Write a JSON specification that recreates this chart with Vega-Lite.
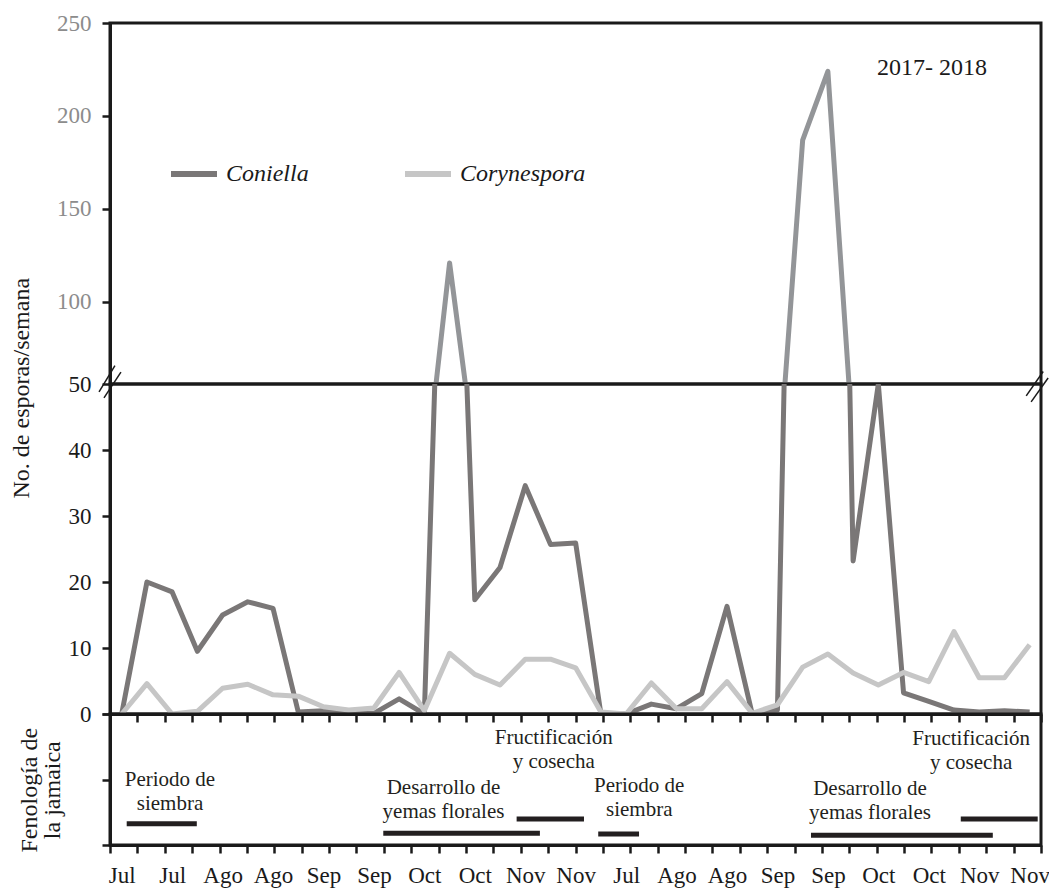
{
  "$schema": "https://vega.github.io/schema/vega-lite/v6.json",
  "background": "white",
  "padding": {"left": 7, "top": 10, "right": 0, "bottom": 0},
  "spacing": 0,
  "bounds": "flush",
  "config": {
    "font": "Liberation Serif, Times New Roman, DejaVu Serif, serif",
    "view": {"stroke": "#1a1a1a", "strokeWidth": 3},
    "text": {"font": "Liberation Serif, Times New Roman, DejaVu Serif, serif"},
    "axis": {
      "domainColor": "#1a1a1a", "domainWidth": 3,
      "tickColor": "#1a1a1a", "tickWidth": 2.5, "tickSize": 8,
      "labelFont": "Liberation Serif, Times New Roman, DejaVu Serif, serif", "labelFontSize": 23, "labelColor": "#1a1a1a",
      "grid": false,
      "titleFont": "Liberation Serif, Times New Roman, DejaVu Serif, serif", "titleFontSize": 24, "titleFontWeight": "normal", "titleColor": "#1a1a1a"
    },
    "legend": {"labelFont": "Liberation Serif, Times New Roman, DejaVu Serif, serif"}
  },
  "datasets": {
    "esporas": [
      {"semana": 0, "serie": "Coniella", "esporas": 0},
      {"semana": 1, "serie": "Coniella", "esporas": 20},
      {"semana": 2, "serie": "Coniella", "esporas": 18.5},
      {"semana": 3, "serie": "Coniella", "esporas": 9.5},
      {"semana": 4, "serie": "Coniella", "esporas": 15},
      {"semana": 5, "serie": "Coniella", "esporas": 17},
      {"semana": 6, "serie": "Coniella", "esporas": 16},
      {"semana": 7, "serie": "Coniella", "esporas": 0.3},
      {"semana": 8, "serie": "Coniella", "esporas": 0.5},
      {"semana": 9, "serie": "Coniella", "esporas": 0.1},
      {"semana": 10, "serie": "Coniella", "esporas": 0.1},
      {"semana": 11, "serie": "Coniella", "esporas": 2.3},
      {"semana": 12, "serie": "Coniella", "esporas": 0},
      {"semana": 13, "serie": "Coniella", "esporas": 121},
      {"semana": 14, "serie": "Coniella", "esporas": 17.3},
      {"semana": 15, "serie": "Coniella", "esporas": 22.2},
      {"semana": 16, "serie": "Coniella", "esporas": 34.6},
      {"semana": 17, "serie": "Coniella", "esporas": 25.7},
      {"semana": 18, "serie": "Coniella", "esporas": 25.9},
      {"semana": 19, "serie": "Coniella", "esporas": 0},
      {"semana": 20, "serie": "Coniella", "esporas": 0},
      {"semana": 21, "serie": "Coniella", "esporas": 1.5},
      {"semana": 22, "serie": "Coniella", "esporas": 0.8},
      {"semana": 23, "serie": "Coniella", "esporas": 3.1},
      {"semana": 24, "serie": "Coniella", "esporas": 16.3},
      {"semana": 25, "serie": "Coniella", "esporas": 0},
      {"semana": 26, "serie": "Coniella", "esporas": 0.6},
      {"semana": 27, "serie": "Coniella", "esporas": 187},
      {"semana": 28, "serie": "Coniella", "esporas": 224},
      {"semana": 29, "serie": "Coniella", "esporas": 23.2},
      {"semana": 30, "serie": "Coniella", "esporas": 50},
      {"semana": 31, "serie": "Coniella", "esporas": 3.2},
      {"semana": 32, "serie": "Coniella", "esporas": 1.9},
      {"semana": 33, "serie": "Coniella", "esporas": 0.6},
      {"semana": 34, "serie": "Coniella", "esporas": 0.3},
      {"semana": 35, "serie": "Coniella", "esporas": 0.5},
      {"semana": 36, "serie": "Coniella", "esporas": 0.3},
      {"semana": 0, "serie": "Corynespora", "esporas": 0},
      {"semana": 1, "serie": "Corynespora", "esporas": 4.6},
      {"semana": 2, "serie": "Corynespora", "esporas": 0},
      {"semana": 3, "serie": "Corynespora", "esporas": 0.4},
      {"semana": 4, "serie": "Corynespora", "esporas": 3.9},
      {"semana": 5, "serie": "Corynespora", "esporas": 4.5},
      {"semana": 6, "serie": "Corynespora", "esporas": 2.9},
      {"semana": 7, "serie": "Corynespora", "esporas": 2.7},
      {"semana": 8, "serie": "Corynespora", "esporas": 1.1},
      {"semana": 9, "serie": "Corynespora", "esporas": 0.6},
      {"semana": 10, "serie": "Corynespora", "esporas": 0.9},
      {"semana": 11, "serie": "Corynespora", "esporas": 6.3},
      {"semana": 12, "serie": "Corynespora", "esporas": 0.5},
      {"semana": 13, "serie": "Corynespora", "esporas": 9.2},
      {"semana": 14, "serie": "Corynespora", "esporas": 6.0},
      {"semana": 15, "serie": "Corynespora", "esporas": 4.4},
      {"semana": 16, "serie": "Corynespora", "esporas": 8.3},
      {"semana": 17, "serie": "Corynespora", "esporas": 8.3},
      {"semana": 18, "serie": "Corynespora", "esporas": 7.0},
      {"semana": 19, "serie": "Corynespora", "esporas": 0.3},
      {"semana": 20, "serie": "Corynespora", "esporas": 0},
      {"semana": 21, "serie": "Corynespora", "esporas": 4.7},
      {"semana": 22, "serie": "Corynespora", "esporas": 0.8},
      {"semana": 23, "serie": "Corynespora", "esporas": 0.8},
      {"semana": 24, "serie": "Corynespora", "esporas": 4.9},
      {"semana": 25, "serie": "Corynespora", "esporas": 0.1},
      {"semana": 26, "serie": "Corynespora", "esporas": 1.4},
      {"semana": 27, "serie": "Corynespora", "esporas": 7.1},
      {"semana": 28, "serie": "Corynespora", "esporas": 9.1},
      {"semana": 29, "serie": "Corynespora", "esporas": 6.2},
      {"semana": 30, "serie": "Corynespora", "esporas": 4.4},
      {"semana": 31, "serie": "Corynespora", "esporas": 6.3},
      {"semana": 32, "serie": "Corynespora", "esporas": 4.9},
      {"semana": 33, "serie": "Corynespora", "esporas": 12.5},
      {"semana": 34, "serie": "Corynespora", "esporas": 5.5},
      {"semana": 35, "serie": "Corynespora", "esporas": 5.5},
      {"semana": 36, "serie": "Corynespora", "esporas": 10.5}
    ],
    "cortes": [
      {"x1": -0.40, "x2": 0.18, "y1": 48.8, "y2": 52.8},
      {"x1": -0.22, "x2": 0.40, "y1": 47.9, "y2": 51.8},
      {"x1": 33.46, "x2": 34.08, "y1": 48.2, "y2": 51.9},
      {"x1": 33.64, "x2": 34.26, "y1": 47.3, "y2": 50.9}
    ],
    "fenologia": [
      {"etapa": "Periodo de siembra", "inicio": 0.61, "fin": 3.17, "nivel": 0.325},
      {"etapa": "Desarrollo de yemas florales", "inicio": 9.98, "fin": 15.70, "nivel": 0.18},
      {"etapa": "Fructificación y cosecha", "inicio": 14.85, "fin": 17.31, "nivel": 0.397},
      {"etapa": "Periodo de siembra", "inicio": 17.83, "fin": 19.32, "nivel": 0.168},
      {"etapa": "Desarrollo de yemas florales", "inicio": 25.60, "fin": 32.24, "nivel": 0.147},
      {"etapa": "Fructificación y cosecha", "inicio": 31.07, "fin": 33.88, "nivel": 0.397}
    ],
    "etiquetas": [
      {"texto": "Periodo de\nsiembra", "semana": 1.915, "nivel": 0.895},
      {"texto": "Desarrollo de\nyemas florales", "semana": 12.76, "nivel": 0.783},
      {"texto": "Fructificación\ny cosecha", "semana": 17.13, "nivel": 1.547},
      {"texto": "Periodo de\nsiembra", "semana": 20.52, "nivel": 0.803},
      {"texto": "Desarrollo de\nyemas florales", "semana": 29.67, "nivel": 0.768},
      {"texto": "Fructificación\ny cosecha", "semana": 33.68, "nivel": 1.531}
    ]
  },
  "vconcat": [
    {
      "width": 931,
      "height": 361,
      "layer": [
        {
          "data": {"name": "esporas"},
          "transform": [{"filter": "datum.serie === 'Coniella'"}],
          "mark": {"type": "line", "clip": true, "color": "#939598", "strokeWidth": 5, "strokeJoin": "round"},
          "encoding": {
            "x": {"field": "semana", "type": "quantitative", "scale": {"domain": [-0.464, 36.45], "nice": false, "zero": false}, "axis": null},
            "y": {"field": "esporas", "type": "quantitative", "scale": {"domain": [55.9, 250], "nice": false, "zero": false},
                  "axis": {"values": [100, 150, 200, 250], "labelColor": "#8c8c8c", "title": null, "labelPadding": 11}}
          }
        },
        {
          "data": {"values": [{"periodo": "2017- 2018", "semana": 32.13, "esporas": 222.2}]},
          "mark": {"type": "text", "fontSize": 24, "align": "center", "baseline": "alphabetic", "color": "#1a1a1a"},
          "encoding": {
            "x": {"field": "semana", "type": "quantitative"},
            "y": {"field": "esporas", "type": "quantitative"},
            "text": {"field": "periodo"}
          }
        }
      ]
    },
    {
      "width": 931,
      "height": 330,
      "layer": [
        {
          "data": {"name": "esporas"},
          "transform": [{"filter": "datum.serie === 'Coniella'"}],
          "mark": {"type": "line", "clip": true, "strokeWidth": 5, "strokeJoin": "round"},
          "encoding": {
            "x": {"field": "semana", "type": "quantitative", "scale": {"domain": [-0.464, 36.45], "nice": false, "zero": false}, "axis": null},
            "y": {"field": "esporas", "type": "quantitative", "scale": {"domain": [0, 50], "nice": false},
                  "axis": {"values": [0, 10, 20, 30, 40, 50], "labelPadding": 11, "title": "No. de esporas/semana",
                           "titleAngle": 270, "titleX": -81.7, "titleY": 3.7, "titleBaseline": "alphabetic", "titleAlign": "center"}},
            "color": {"field": "serie", "type": "nominal",
                      "scale": {"domain": ["Coniella", "Corynespora"], "range": ["#7a7777", "#c6c6c6"]},
                      "legend": {"orient": "none", "legendX": 58, "legendY": 125, "direction": "horizontal", "title": null,
                                 "symbolType": "stroke", "symbolSize": 2116, "symbolStrokeWidth": 6,
                                 "labelFontSize": 24, "labelFontStyle": "italic",
                                 "labelColor": "#1a1a1a", "labelOffset": 6, "columnPadding": 84, "padding": 0}}
          }
        },
        {
          "data": {"name": "esporas"},
          "transform": [{"filter": "datum.serie === 'Corynespora'"}],
          "mark": {"type": "line", "clip": true, "strokeWidth": 5, "strokeJoin": "round"},
          "encoding": {
            "x": {"field": "semana", "type": "quantitative", "scale": {"domain": [-0.464, 36.45], "nice": false, "zero": false}, "axis": null},
            "y": {"field": "esporas", "type": "quantitative", "scale": {"domain": [0, 50], "nice": false}},
            "color": {"field": "serie", "type": "nominal"}
          }
        },
        {
          "data": {"name": "cortes"},
          "mark": {"type": "rule", "strokeWidth": 1.5, "color": "#1a1a1a"},
          "encoding": {
            "x": {"field": "x1", "type": "quantitative", "scale": {"domain": [0, 34], "nice": false, "zero": false},
                  "axis": {"orient": "bottom", "values": [0,1,2,3,4,5,6,7,8,9,10,11,12,13,14,15,16,17,18,19,20,21,22,23,24,25,26,27,28,29,30,31,32,33,34],
                           "labels": false, "title": null, "tickSize": 8}},
            "x2": {"field": "x2"},
            "y": {"field": "y1", "type": "quantitative", "scale": {"domain": [0, 50], "nice": false}},
            "y2": {"field": "y2"}
          }
        }
      ],
      "resolve": {"scale": {"x": "independent"}}
    },
    {
      "width": 931,
      "height": 131,
      "layer": [
        {
          "data": {"name": "fenologia"},
          "mark": {"type": "rule", "strokeWidth": 5, "color": "#231f20"},
          "encoding": {
            "x": {"field": "inicio", "type": "quantitative", "scale": {"domain": [0, 34], "nice": false, "zero": false},
                  "axis": {"orient": "bottom", "values": [0,1,2,3,4,5,6,7,8,9,10,11,12,13,14,15,16,17,18,19,20,21,22,23,24,25,26,27,28,29,30,31,32,33,34],
                           "labels": false, "title": null, "tickSize": 8}},
            "x2": {"field": "fin"},
            "y": {"field": "nivel", "type": "quantitative", "scale": {"domain": [0, 2], "nice": false},
                  "axis": {"values": [0, 1, 2], "labels": false, "title": ["Fenología de", "la jamaica"],
                           "titleAngle": 270, "titleX": -73.3, "titleY": 75.7, "titleBaseline": "alphabetic",
                           "titleAlign": "center", "titleLineHeight": 23.3}}
          }
        },
        {
          "data": {"name": "etiquetas"},
          "mark": {"type": "text", "fontSize": 21, "align": "center", "baseline": "alphabetic", "lineBreak": "\n", "lineHeight": 24, "color": "#231f20"},
          "encoding": {
            "x": {"field": "semana", "type": "quantitative", "scale": {"domain": [-0.464, 36.45], "nice": false, "zero": false},
                  "axis": {"orient": "bottom", "values": [0,2,4,6,8,10,12,14,16,18,20,22,24,26,28,30,32,34,36],
                           "ticks": false, "tickSize": 0, "domain": false, "title": null, "labelPadding": 37,
                           "labelBaseline": "alphabetic", "labelOverlap": false, "labelFlush": false,
                           "labelExpr": "['Jul','Jul','Ago','Ago','Sep','Sep','Oct','Oct','Nov','Nov','Jul','Ago','Ago','Sep','Sep','Oct','Oct','Nov','Nov'][datum.value / 2]",
                           "encode": {"labels": {"update": {
                             "dy": {"signal": "datum.value === 14 || datum.value === 32 ? 4 : 0"},
                             "dx": {"signal": "datum.value === 36 ? -6 : 0"}}}}}},
            "y": {"field": "nivel", "type": "quantitative", "scale": {"domain": [0, 2], "nice": false}},
            "text": {"field": "texto"}
          }
        }
      ],
      "resolve": {"scale": {"x": "independent"}}
    }
  ]
}
